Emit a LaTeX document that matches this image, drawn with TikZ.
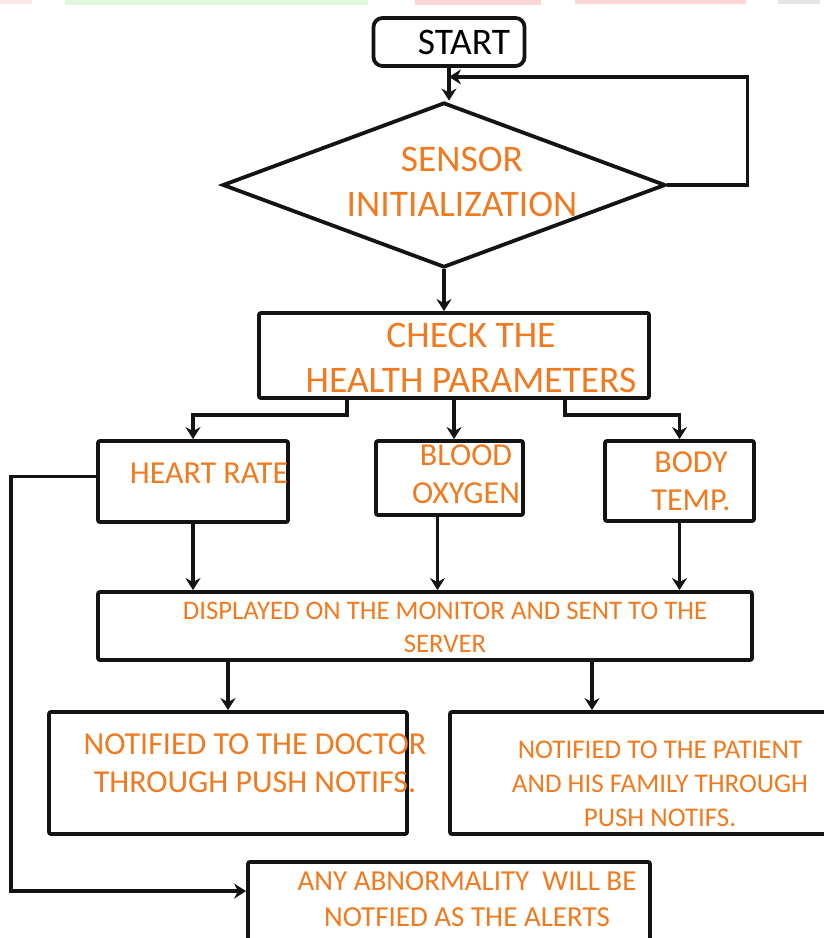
\documentclass[tikz,border=0pt]{standalone}
\usepackage{fontspec}
\setmainfont{Carlito}
\usetikzlibrary{arrows.meta,positioning,calc,shapes.geometric}
\definecolor{flowline}{RGB}{20,20,20}
\definecolor{labelorange}{RGB}{240,122,32}
\definecolor{stripgreen}{RGB}{226,245,222}
\definecolor{stripred}{RGB}{252,214,214}

\begin{document}
\begin{tikzpicture}[x=1pt,y=-1pt,>={Stealth[length=12pt,width=15pt]},
    box/.style={draw=flowline,line width=3.8pt,rounded corners=2pt,inner sep=0pt},
    link/.style={->,draw=flowline,line width=3.8pt},
    lbl/.style={text=labelorange,align=center,inner sep=0pt},
    big/.style={font=\fontsize{37.5}{45}\selectfont},
    mid/.style={font=\fontsize{32}{38}\selectfont},
    small/.style={font=\fontsize{27}{34}\selectfont}]
  \useasboundingbox (0,0) rectangle (824,938);
  % faint strips along the top edge
  \fill[stripred!60] (0,0) rectangle (32,4);
  \fill[stripgreen] (65,0) rectangle (368,5);
  \fill[stripred] (415,0) rectangle (541,5);
  \fill[stripred] (575,0) rectangle (746,4);
  \fill[black!10] (778,0) rectangle (820,4);

  \node[box,rounded corners=9pt,minimum width=151pt,minimum height=48pt] (start) at (449,42) {};
  \node[big,anchor=center] (startlbl) at (464,42) {START};
  \node[diamond,draw=flowline,line width=3.8pt,inner sep=0pt,minimum width=443pt,minimum height=165pt] (sensor) at (444,185) {};
  \node[lbl,big] (sensorlbl) at (462,182) {SENSOR\\INITIALIZATION};
  \node[box,minimum width=390pt,minimum height=85pt] (check) at (454,355.5) {};
  \node[lbl,big] (checklbl) at (471,358) {CHECK THE\\HEALTH PARAMETERS};

  \node[box,minimum width=190pt,minimum height=81pt] (heart) at (193,481.5) {};
  \node[lbl,mid] (heartlbl) at (209,473) {HEART RATE};
  \node[box,minimum width=147pt,minimum height=74pt] (oxygen) at (449.5,478) {};
  \node[lbl,mid] (oxygenlbl) at (466,474) {BLOOD\\OXYGEN};
  \node[box,minimum width=149pt,minimum height=80pt] (temp) at (679.5,481) {};
  \node[lbl,mid] (templbl) at (691,481) {BODY\\TEMP.};

  \node[box,minimum width=654pt,minimum height=68pt] (monitor) at (425,626) {};
  \node[lbl,font=\fontsize{26.8}{33}\selectfont] (monitorlbl) at (445,627)
    {DISPLAYED ON THE MONITOR AND SENT TO THE\\SERVER};

  \node[box,minimum width=358pt,minimum height=122pt] (doctor) at (228,773) {};
  \node[lbl,mid] (doctorlbl) at (255,763) {NOTIFIED TO THE DOCTOR\\THROUGH PUSH NOTIFS.};
  \node[box,minimum width=384pt,minimum height=122pt] (patient) at (642,773) {};
  \node[lbl,small] (patientlbl) at (660,784)
    {NOTIFIED TO THE PATIENT\\AND HIS FAMILY THROUGH\\PUSH NOTIFS.};

  \node[box,minimum width=402pt,minimum height=90pt] (alert) at (449,907) {};
  \node[lbl,font=\fontsize{29}{36}\selectfont] (alertlbl) at (467,899)
    {ANY ABNORMALITY~ WILL BE\\NOTFIED AS THE ALERTS};

  \coordinate (loopin) at ($(start.south)+(0,9)$);
  \coordinate (leftfork) at ($(check.south)+(-107,0)$);
  \coordinate (rightfork) at ($(check.south)+(111,0)$);
  \coordinate (oxyout) at ($(oxygen.south)+(-12,0)$);
  \coordinate (patin) at ($(monitor.south)+(167,0)$);
  \coordinate (alertin) at ($(alert.north west)+(0,31)$);

  \draw[link] (start.south) -- (start.south |- sensor.north);
  \draw[link] (sensor.east) -- ++(80,0) |- (loopin);
  \draw[link] (sensor.south) -- (sensor.south |- check.north);
  \draw[link] (leftfork) -- ++(0,15) -| (heart.north);
  \draw[link] (check.south) -- (check.south |- oxygen.north);
  \draw[link] (rightfork) -- ++(0,15) -| (temp.north);
  \draw[link] (heart.south) -- (heart.south |- monitor.north);
  \draw[link] (oxyout) -- (oxyout |- monitor.north);
  \draw[link] (temp.south) -- (temp.south |- monitor.north);
  \draw[link] (monitor.south -| doctor.north) -- (doctor.north);
  \draw[link] (patin) -- (patin |- patient.north);
  \draw[link] ($(heart.west)+(0,-5)$) -- ++(-85,0) |- (alertin);
\end{tikzpicture}
\end{document}
